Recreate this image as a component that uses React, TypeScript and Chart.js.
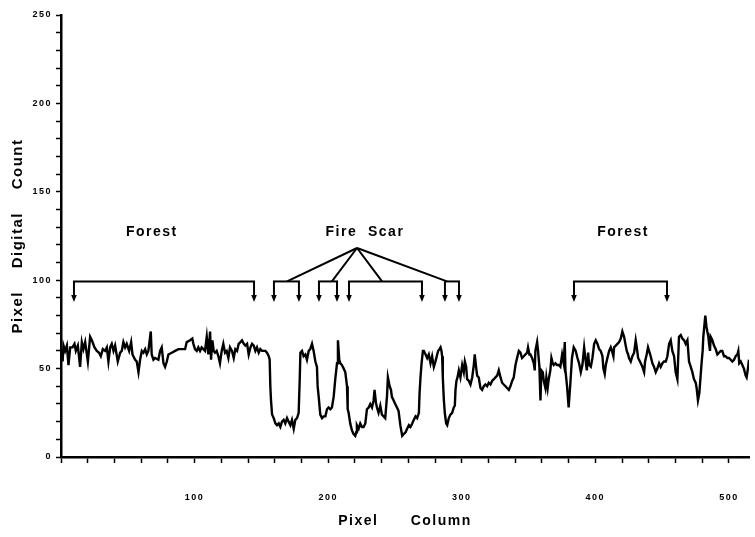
import React, { useEffect, useRef } from "react";
import { Chart, registerables } from "chart.js";

Chart.register(...registerables);

const pixelColumns = [
  1.0, 1.2, 1.9, 3.1, 4.4, 5.6, 6.9, 8.6, 10.1, 11.1, 12.6, 14.3, 15.6, 16.8, 18.1, 20.1, 21.8, 23.1, 25.1, 26.8,
  28.5, 29.8, 31.3, 33.0, 34.3, 35.5, 36.8, 38.0, 39.3, 40.5, 42.5, 44.3, 45.5, 46.7, 48.0, 49.2, 51.0, 52.5, 53.5, 55.5,
  56.7, 58.0, 59.2, 60.5, 61.7, 63.0, 64.2, 65.4, 67.2, 67.9, 69.2, 70.4, 72.9, 74.2, 75.4, 76.7, 77.9, 79.2, 80.4, 82.9,
  85.4, 87.9, 90.4, 92.9, 94.1, 96.6, 98.3, 99.1, 100.3, 101.6, 102.8, 104.1, 105.3, 107.8, 109.1, 110.3, 111.6, 112.3, 113.3, 114.3,
  115.3, 116.5, 117.8, 119.0, 120.3, 121.5, 122.8, 124.0, 125.3, 126.5,
  128.0, 129.3, 130.5, 131.8, 133.0, 134.3, 135.5, 136.8, 138.0, 139.3, 140.5, 141.8, 143.0, 144.3, 145.5, 146.7, 148.0, 149.2, 150.5, 151.7,
  153.0, 154.2, 155.5, 156.2, 156.7, 157.2, 158.0, 159.2, 160.5, 161.7, 163.0, 164.2, 165.4, 166.7, 167.9, 169.2, 170.4, 171.7, 172.9, 174.2,
  175.4, 176.7, 177.9, 178.7, 179.2, 180.4, 181.6, 182.9, 184.1, 185.4, 186.6, 187.9, 189.1, 190.4, 191.6, 192.1, 192.9, 194.1, 195.4, 196.6,
  197.9, 199.1, 200.3, 201.6, 202.8, 204.1, 205.3, 206.6, 207.3, 208.3, 209.1, 210.3, 211.6, 212.8, 214.1, 214.6, 215.3, 216.5, 217.8, 219.0,
  220.3, 221.0, 221.5, 222.8, 224.0, 225.3, 226.5, 227.8, 229.0, 230.3, 231.5, 232.8, 234.0, 234.7, 235.7, 236.5, 237.7, 239.0, 240.2, 241.5,
  242.7, 244.0, 244.7, 246.0, 247.0, 247.7, 249.0, 250.2, 251.5, 252.7, 254.0,
  255.4, 256.6, 257.9, 259.1, 260.4, 261.6, 262.9, 264.1, 265.4, 266.6, 267.9, 268.4, 269.1, 269.9, 270.9, 271.6, 272.9, 274.1, 275.3, 276.6,
  277.8, 279.1, 280.3, 281.6, 282.3, 283.3, 284.1, 284.8, 285.3, 285.8, 286.6, 287.3, 288.3, 289.1, 290.3, 291.5, 292.8, 294.0, 294.8, 295.3,
  296.0, 296.8, 297.8, 299.0, 300.3, 301.5, 302.3, 303.3, 304.0, 305.3, 306.5, 307.8, 309.0, 309.7, 310.7, 311.5, 312.7, 314.0, 315.2, 316.5,
  317.7, 319.0, 320.2, 321.5, 322.7, 324.0, 325.2, 326.5, 327.7, 329.0, 330.2, 331.4, 332.7, 333.9, 335.2, 336.4, 337.7, 338.9, 340.2, 341.4,
  342.7, 343.9, 345.1, 346.4, 347.6, 348.9, 349.6, 350.6, 351.4, 352.6, 353.9, 354.6, 355.1, 356.4, 357.1, 358.1, 358.9, 359.6, 360.6, 361.4,
  362.6, 363.3, 364.3, 365.1, 366.3, 367.1, 368.1, 368.8, 370.1, 371.3, 372.6, 373.8, 375.1, 376.3, 377.1, 377.6, 378.8, 379.6, 380.0, 381.3,
  382.5, 383.8,
  385.3, 386.6, 387.8, 389.1, 390.3, 391.6, 392.8, 393.6, 394.6, 395.3, 396.6, 397.8, 399.1, 400.3, 401.6, 402.8, 404.0, 405.3, 406.0, 407.0,
  407.8, 409.0, 410.3, 411.5, 412.8, 413.5, 414.0, 415.3, 416.5, 417.8, 419.0, 420.2, 421.5, 422.7, 423.5, 424.5, 425.2, 426.5, 427.7, 429.0,
  430.2, 431.0, 432.0, 432.7, 434.0, 435.2, 436.5, 437.2, 438.4, 439.4, 440.2, 441.4, 442.7, 443.9, 445.2, 446.4, 447.7, 448.9, 450.2, 451.4,
  452.7, 453.9, 455.2, 456.4, 457.6, 458.9, 460.1, 461.4, 462.6, 463.9, 465.1, 466.4, 467.6, 468.9, 470.1, 471.4, 472.6, 473.8, 475.1, 475.8,
  476.8, 477.8, 478.8, 479.6, 480.3, 480.8, 481.8, 482.3, 483.1, 483.8, 484.6, 485.1, 485.8, 486.3, 487.6, 488.8, 490.1, 491.3, 492.6, 493.8,
  495.0, 496.3, 497.5, 498.8, 500.0, 501.3, 502.5, 503.8, 505.0, 506.3, 507.0, 507.7, 508.8, 510.0, 511.2, 512.5, 513.2, 514.2, 515.0,
];

// Pixel digital count at each column
const digitalCounts = [
  61, 54, 63, 60, 63, 52, 62, 62, 64, 60, 63, 51, 65, 61, 65, 54, 68, 66, 62, 60,
  59, 57, 61, 60, 62, 54, 62, 64, 60, 63, 54, 59, 60, 65, 62, 64, 60, 65, 58, 55,
  54, 48, 55, 60, 59, 61, 58, 60, 71, 58, 55, 56, 55, 60, 62, 53, 51, 54, 58, 59,
  60, 61, 61, 61, 65, 66, 67, 64, 61, 60, 62, 60, 62, 60, 68, 58, 71, 55, 66, 60,
  59, 60, 57, 53, 60, 64, 59, 60, 56, 62,
  60, 56, 61, 60, 64, 65, 66, 64, 63, 64, 58, 62, 64, 63, 60, 62, 59, 61, 60, 60,
  60, 59, 57, 55, 40, 32, 24, 22, 19, 18, 19, 17, 20, 21, 19, 22, 20, 18, 21, 16,
  21, 22, 25, 44, 59, 60, 57, 58, 55, 60, 61, 64, 60, 54, 51, 40, 34, 24, 22, 23,
  23, 27, 28, 27, 28, 34, 44, 53, 66, 55, 53, 52, 50, 48, 40, 27, 25, 19, 15, 13,
  12, 14, 18, 16, 19, 17, 17, 19, 27, 28, 30, 28, 32, 38, 31, 28, 25, 29, 24, 23,
  22, 34, 45, 40, 38, 34, 32, 30, 28, 26, 18,
  12, 13, 14, 16, 18, 17, 19, 21, 23, 22, 25, 36, 45, 53, 60, 60, 58, 56, 58, 53,
  57, 51, 54, 58, 60, 61, 62, 60, 57, 45, 32, 25, 19, 18, 22, 24, 25, 28, 29, 38,
  43, 45, 49, 45, 52, 48, 54, 51, 44, 43, 41, 45, 52, 58, 51, 46, 45, 39, 38, 40,
  41, 40, 42, 41, 43, 44, 45, 46, 49, 45, 42, 41, 40, 39, 38, 40, 43, 45, 52, 56,
  60, 59, 56, 57, 58, 59, 62, 58, 58, 56, 53, 49, 60, 65, 60, 51, 32, 49, 48, 43,
  39, 45, 39, 44, 49, 56, 53, 52, 53, 52, 52, 51, 58, 53, 65, 49, 40, 32, 28, 42,
  56, 62,
  60, 56, 53, 48, 52, 62, 54, 49, 59, 52, 51, 56, 64, 66, 64, 61, 60, 57, 50, 47,
  52, 56, 60, 62, 59, 57, 62, 63, 64, 65, 67, 71, 68, 63, 60, 58, 56, 54, 57, 59,
  66, 62, 56, 55, 53, 51, 48, 54, 58, 62, 60, 57, 53, 51, 48, 50, 53, 51, 53, 54,
  54, 57, 64, 66, 60, 57, 48, 44, 68, 69, 67, 66, 64, 66, 54, 51, 48, 44, 42, 39,
  32, 36, 46, 54, 60, 68, 76, 80, 74, 71, 68, 64, 60, 68, 66, 63, 61, 58, 59, 60,
  60, 57, 57, 56, 56, 55, 54, 55, 57, 58, 60, 53, 54, 52, 50, 46, 45, 50, 55,
];

// Axis ticks
const xMin = 0;
const xMax = 515;
const xTickStep = 20;
const xLabelledTicks = [100, 200, 300, 400, 500];
const yMin = 0;
const yMax = 250;
const yTickStep = 10;
const yLabelledTicks = [0, 50, 100, 150, 200, 250];

// Annotation (region labels and brackets) in data units
const regionLabels = ["Forest", "Fire  Scar", "Forest"];
const regionLabelColumns = [68, 227.5, 420.7];
const regionLabelCount = 127;
const forestBrackets = [
  [9.7, 144.5],
  [384, 453.6],
];
const scarBrackets = [
  [159.4, 178.1, 169.2],
  [193.1, 206.6, 202.8],
  [215.6, 270.2, 240.3],
  [287.4, 297.9, 288.9],
];
const scarApex = [221.6, 118.2];
const bracketCount = 99.3;
const arrowTipCount = 87.7;

const FONT = "'Liberation Sans', Arial, Helvetica, sans-serif";

const annotationPlugin = {
  id: "regionAnnotations",
  beforeDraw(chart: any) {
    chart.ctx.letterSpacing = "1.5px";
  },
  afterDatasetsDraw(chart: any) {
    const ctx = chart.ctx;
    const xs = chart.scales.x;
    const ys = chart.scales.y;
    const px = (v: number) => xs.getPixelForValue(v);
    const py = (v: number) => ys.getPixelForValue(v);
    ctx.save();
    ctx.strokeStyle = "#000";
    ctx.fillStyle = "#000";
    ctx.lineWidth = 2;
    ctx.lineCap = "butt";

    const arrow = (c: number) => {
      const X = px(c);
      const top = py(bracketCount);
      const tip = py(arrowTipCount);
      ctx.beginPath();
      ctx.moveTo(X, top);
      ctx.lineTo(X, tip - 5);
      ctx.stroke();
      ctx.beginPath();
      ctx.moveTo(X - 2.8, tip - 7);
      ctx.lineTo(X + 2.8, tip - 7);
      ctx.lineTo(X, tip);
      ctx.closePath();
      ctx.fill();
    };
    const bracket = (a: number, b: number) => {
      ctx.beginPath();
      ctx.moveTo(px(a) - 1, py(bracketCount));
      ctx.lineTo(px(b) + 1, py(bracketCount));
      ctx.stroke();
      arrow(a);
      arrow(b);
    };

    forestBrackets.forEach(([a, b]) => bracket(a, b));
    scarBrackets.forEach(([a, b, c]) => {
      bracket(a, b);
      ctx.beginPath();
      ctx.moveTo(px(scarApex[0]), py(scarApex[1]));
      ctx.lineTo(px(c), py(bracketCount));
      ctx.stroke();
    });

    ctx.font = `bold 14px ${FONT}`;
    ctx.textAlign = "center";
    ctx.textBaseline = "middle";
    regionLabels.forEach((t, i) => {
      ctx.fillText(t, px(regionLabelColumns[i]), py(regionLabelCount));
    });
    ctx.restore();
  },
};

export default function App() {
  const ref = useRef<HTMLCanvasElement | null>(null);

  useEffect(() => {
    if (!ref.current) return;
    const points = pixelColumns.map((c, i) => ({ x: c, y: digitalCounts[i] }));
    const chart = new Chart(ref.current, {
      type: "line",
      data: {
        datasets: [
          {
            label: "Pixel digital count",
            data: points,
            borderColor: "#000",
            borderWidth: 2.4,
            pointRadius: 0,
            tension: 0,
            fill: false,
          },
        ],
      },
      options: {
        animation: false,
        responsive: false,
        devicePixelRatio: 1,
        layout: { padding: { top: 15, right: 6, left: 0, bottom: 0 } },
        plugins: {
          legend: { display: false },
          tooltip: { enabled: false },
        },
        scales: {
          x: {
            type: "linear",
            min: xMin,
            max: xMax,
            border: { display: true, color: "#000", width: 2.5 },
            grid: {
              display: true,
              drawOnChartArea: false,
              drawTicks: true,
              tickLength: 6,
              tickColor: "#000",
              tickWidth: 1.5,
            },
            ticks: {
              stepSize: xTickStep,
              includeBounds: false,
              autoSkip: false,
              maxRotation: 0,
              padding: 29,
              color: "#000",
              font: { size: 9, weight: "bold", family: FONT },
              callback: (v: any) => (xLabelledTicks.includes(Number(v)) ? String(v) : ""),
            },
            afterFit: (s: any) => {
              s.height = 80;
              s.paddingLeft = 0;
              s.paddingRight = 0;
            },
            title: {
              display: true,
              text: "Pixel      Column",
              color: "#000",
              font: { size: 14, weight: "bold", family: FONT },
              padding: { top: 0, bottom: 7 },
            },
          },
          y: {
            type: "linear",
            min: yMin,
            max: yMax,
            border: { display: true, color: "#000", width: 2.5 },
            grid: {
              display: true,
              drawOnChartArea: false,
              drawTicks: true,
              tickLength: 5,
              tickColor: "#000",
              tickWidth: 1.5,
            },
            ticks: {
              stepSize: yTickStep,
              autoSkip: false,
              padding: 4,
              color: "#000",
              font: { size: 9, weight: "bold", family: FONT },
              callback: (v: any) => (yLabelledTicks.includes(Number(v)) ? String(v) : ""),
            },
            afterFit: (s: any) => {
              s.width = 61;
              s.paddingTop = 0;
              s.paddingBottom = 0;
            },
            title: {
              display: true,
              text: "Pixel    Digital    Count",
              color: "#000",
              font: { size: 15, weight: "bold", family: FONT },
              padding: { top: 9, bottom: 0 },
            },
          },
        },
      },
      plugins: [annotationPlugin],
    });
    return () => chart.destroy();
  }, []);

  return (
    <div style={{ position: "fixed", left: 0, top: 0, width: 755, height: 537, background: "#fff" }}>
      <canvas ref={ref} width={755} height={537} />
    </div>
  );
}
